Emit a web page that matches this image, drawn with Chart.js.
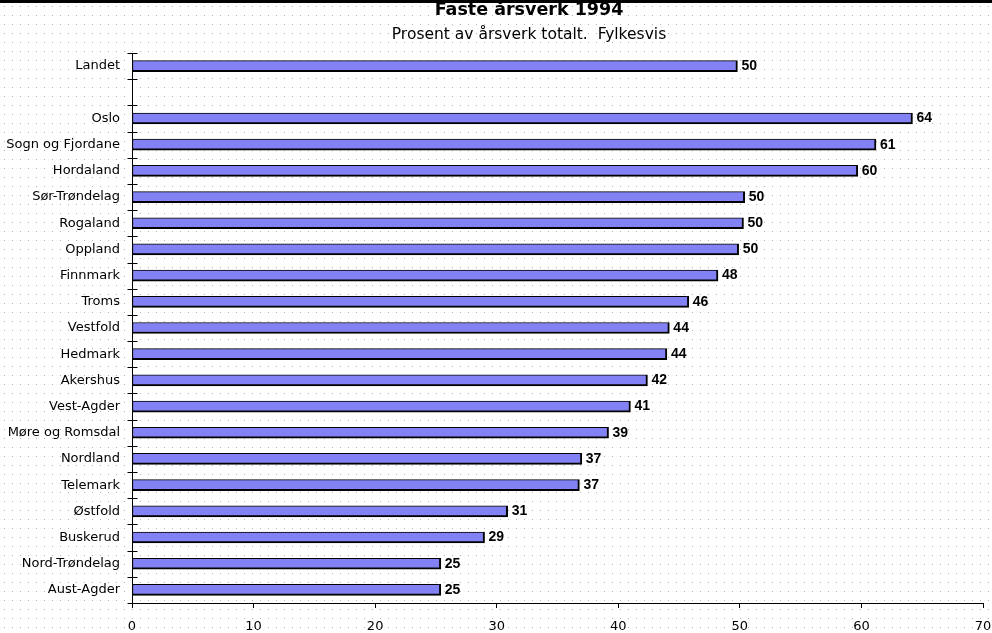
<!DOCTYPE html>
<html>
<head>
<meta charset="utf-8">
<script src="https://cdn.jsdelivr.net/npm/chart.js@4"></script>
<style>
  html, body { margin: 0; padding: 0; background: #fff; }
  #wrap { width: 992px; height: 633px; position: relative; }
</style>
</head>
<body>
<div id="wrap"><canvas id="chart"></canvas></div>
<script>
// Fylker, sortert som i originalen (tom rad mellom Landet og fylkene)
const categories = ['Landet', '', 'Oslo', 'Sogn og Fjordane', 'Hordaland', 'Sør-Trøndelag', 'Rogaland',
    'Oppland', 'Finnmark', 'Troms', 'Vestfold', 'Hedmark', 'Akershus', 'Vest-Agder',
    'Møre og Romsdal', 'Nordland', 'Telemark', 'Østfold', 'Buskerud', 'Nord-Trøndelag', 'Aust-Agder'];
const values = [49.8, null, 64.2, 61.2, 59.7, 50.4, 50.3, 49.9, 48.2, 45.8, 44.2, 44.0, 42.4, 41.0,
    39.2, 37.0, 36.8, 30.9, 29.0, 25.4, 25.4];
const xTicks = [0, 10, 20, 30, 40, 50, 60, 70];

const titleText = 'Faste årsverk 1994';
const subtitleText = 'Prosent av årsverk totalt.  Fylkesvis';
const font = '"DejaVu Sans", sans-serif';
const numFont = '"Liberation Sans", Arial, sans-serif';

// dotted background + black band at the top + titles
const backdrop = {
    id: 'backdrop',
    beforeDraw(chart) {
        const ctx = chart.ctx;
        ctx.save();
        ctx.fillStyle = '#fff';
        ctx.fillRect(0, 0, chart.width, chart.height);
        ctx.fillStyle = '#b4b4b4';
        for (let y = 6; y < chart.height; y += 9) {
            for (let x = 4; x < chart.width; x += 8) ctx.fillRect(x, y, 1, 1);
        }
        ctx.fillStyle = '#000';
        ctx.fillRect(0, 0, chart.width, 3);
        ctx.restore();
    },
    afterDraw(chart) {
        const ctx = chart.ctx;
        ctx.save();
        ctx.fillStyle = '#000';
        ctx.textAlign = 'center';
        ctx.textBaseline = 'alphabetic';
        ctx.font = 'bold 17.5px ' + font;
        ctx.fillText(titleText, 529, 15);
        ctx.font = '15.5px ' + font;
        ctx.fillText(subtitleText, 529, 39);
        ctx.restore();
    }
};

// cross ticks on the category axis and value labels at bar ends
const extras = {
    id: 'extras',
    afterDatasetsDraw(chart) {
        const ctx = chart.ctx;
        const y = chart.scales.y;
        const x = chart.scales.x;
        ctx.save();
        ctx.strokeStyle = '#000';
        ctx.lineWidth = 1;
        const ax = Math.round(x.getPixelForValue(0)) + 0.5;
        ctx.beginPath();
        ctx.moveTo(ax, y.top);
        ctx.lineTo(ax, y.bottom);
        for (let i = 0; i <= categories.length; i++) {
            const py = Math.round(y.getPixelForValue(i - 0.5)) + 0.5;
            ctx.moveTo(ax - 5, py);
            ctx.lineTo(ax + 5, py);
        }
        ctx.stroke();

        ctx.fillStyle = '#000';
        ctx.font = 'bold 14px ' + numFont;
        ctx.textAlign = 'left';
        ctx.textBaseline = 'middle';
        const meta = chart.getDatasetMeta(0);
        meta.data.forEach((bar, i) => {
            if (values[i] == null) return;
            ctx.fillText(String(Math.round(values[i])), bar.x + 4, bar.y);
        });
        ctx.restore();
    }
};

new Chart(document.getElementById('chart'), {
    type: 'bar',
    data: {
        labels: categories,
        datasets: [{
            data: values,
            backgroundColor: '#8282f4',
            borderColor: '#000',
            borderWidth: { top: 1, left: 1, right: 2, bottom: 2 },
            borderSkipped: false,
            barThickness: 11
        }]
    },
    options: {
        indexAxis: 'y',
        responsive: true,
        maintainAspectRatio: false,
        animation: false,
        layout: { padding: { top: 53, right: 9, left: 0, bottom: 0 } },
        plugins: {
            legend: { display: false },
            tooltip: { enabled: false }
        },
        scales: {
            x: {
                min: 0,
                max: 70,
                afterBuildTicks(scale) { scale.ticks = xTicks.map(v => ({ value: v })); },
                afterFit(scale) {
                    scale.height = 30;
                    scale.paddingLeft = 0;
                    scale.paddingRight = 0;
                },
                grid: { drawOnChartArea: false, drawTicks: true, tickLength: 5, color: '#000' },
                border: { display: true, color: '#000', width: 1 },
                ticks: { color: '#000', padding: 11, font: { family: font, size: 13 }, maxRotation: 0 }
            },
            y: {
                afterFit(scale) { scale.width = 132; },
                grid: { display: false, drawTicks: false },
                border: { display: false },
                ticks: { color: '#000', padding: 12, autoSkip: false, font: { family: font, size: 13 } }
            }
        }
    },
    plugins: [backdrop, extras]
});
</script>
</body>
</html>
